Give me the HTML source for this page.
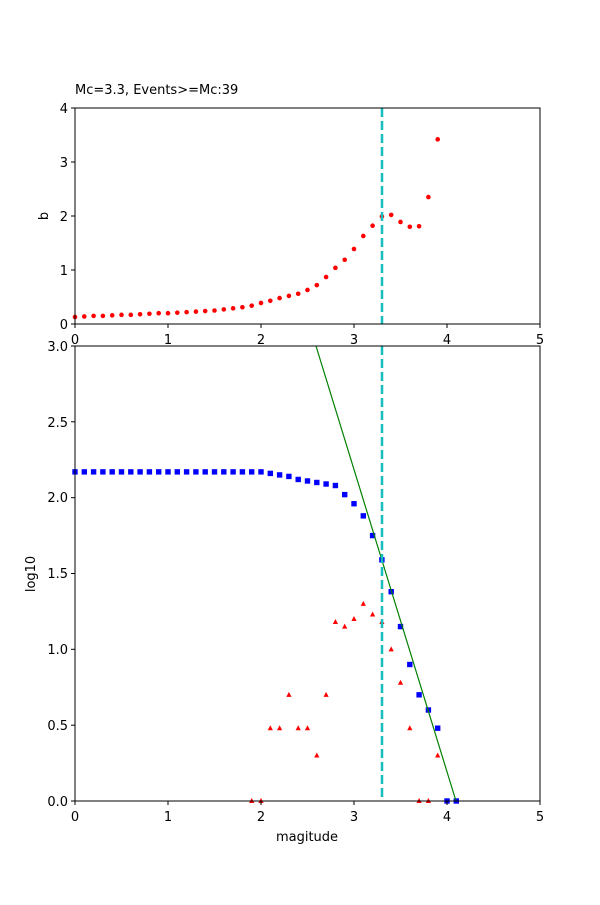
<!DOCTYPE html>
<html><head><meta charset="utf-8"><style>body{margin:0;background:#fff}svg text{font-family:"DejaVu Sans","Liberation Sans",sans-serif;font-size:13px;fill:#000}</style></head><body>
<svg id="s" width="600" height="900" xmlns="http://www.w3.org/2000/svg">
<rect width="600" height="900" fill="#fff"/>
<g id="pts"></g>
<line x1="316" y1="346" x2="456" y2="801" stroke="green" stroke-width="1.2"/>
<line x1="382" y1="108" x2="382" y2="324" stroke="#17bebe" stroke-width="2.5" stroke-dasharray="9,4"/>
<line x1="382" y1="346" x2="382" y2="801" stroke="#17bebe" stroke-width="2.5" stroke-dasharray="9,4"/>
<rect x="75" y="108" width="465" height="216" fill="none" stroke="#000" stroke-width="1"/>
<rect x="75" y="346" width="465" height="455" fill="none" stroke="#000" stroke-width="1"/>
<g stroke="#000">
<line x1="75" y1="324" x2="75" y2="328"/><line x1="168" y1="324" x2="168" y2="328"/><line x1="261" y1="324" x2="261" y2="328"/><line x1="354" y1="324" x2="354" y2="328"/><line x1="447" y1="324" x2="447" y2="328"/><line x1="540" y1="324" x2="540" y2="328"/>
<line x1="75" y1="801" x2="75" y2="805"/><line x1="168" y1="801" x2="168" y2="805"/><line x1="261" y1="801" x2="261" y2="805"/><line x1="354" y1="801" x2="354" y2="805"/><line x1="447" y1="801" x2="447" y2="805"/><line x1="540" y1="801" x2="540" y2="805"/>
<line x1="71" y1="324" x2="75" y2="324"/><line x1="71" y1="270" x2="75" y2="270"/><line x1="71" y1="216" x2="75" y2="216"/><line x1="71" y1="162" x2="75" y2="162"/><line x1="71" y1="108" x2="75" y2="108"/>
<line x1="71" y1="801" x2="75" y2="801"/><line x1="71" y1="725.2" x2="75" y2="725.2"/><line x1="71" y1="649.3" x2="75" y2="649.3"/><line x1="71" y1="573.5" x2="75" y2="573.5"/><line x1="71" y1="497.7" x2="75" y2="497.7"/><line x1="71" y1="421.8" x2="75" y2="421.8"/><line x1="71" y1="346" x2="75" y2="346"/>
</g>
<g text-anchor="middle">
<text x="75" y="344">0</text><text x="168" y="344">1</text><text x="261" y="344">2</text><text x="354" y="344">3</text><text x="447" y="344">4</text><text x="540" y="344">5</text>
<text x="75" y="821">0</text><text x="168" y="821">1</text><text x="261" y="821">2</text><text x="354" y="821">3</text><text x="447" y="821">4</text><text x="540" y="821">5</text>
<text x="307" y="841">magitude</text>
</g>
<g text-anchor="end">
<text x="68" y="329">0</text><text x="68" y="275">1</text><text x="68" y="221">2</text><text x="68" y="167">3</text><text x="68" y="113">4</text>
<text x="68" y="806">0.0</text><text x="68" y="730">0.5</text><text x="68" y="654">1.0</text><text x="68" y="578">1.5</text><text x="68" y="502">2.0</text><text x="68" y="427">2.5</text><text x="68" y="351">3.0</text>
</g>
<text x="75" y="94">Mc=3.3, Events&gt;=Mc:39</text>
<text transform="translate(48,216) rotate(-90)" text-anchor="middle">b</text>
<text transform="translate(35,574) rotate(-90)" text-anchor="middle">log10</text>
</svg>
<script>
var g=document.getElementById('pts'),h='';
var b=[0.13,0.14,0.15,0.15,0.16,0.17,0.17,0.18,0.19,0.2,0.2,0.21,0.22,0.23,0.24,0.25,0.27,0.29,0.31,0.34,0.39,0.43,0.48,0.52,0.56,0.63,0.72,0.87,1.04,1.19,1.39,1.63,1.82,1.99,2.02,1.89,1.8,1.81,2.35,3.42];
b.forEach(function(v,i){h+='<circle cx="'+(75+9.3*i)+'" cy="'+(324-54*v)+'" r="2.3" fill="red"/>';});
var c=[];for(var i=0;i<20;i++)c.push(2.17);
c=c.concat([2.17,2.16,2.15,2.14,2.12,2.11,2.10,2.09,2.08,2.02,1.96,1.88,1.75,1.59,1.38,1.15,0.90,0.70,0.60,0.48,0,0]);
c.forEach(function(v,i){var x=75+9.3*i,y=801-151.67*v;h+='<rect x="'+(x-2.7)+'" y="'+(y-2.7)+'" width="5.4" height="5.4" fill="blue"/>';});
var t={19:0,20:0,21:0.48,22:0.48,23:0.70,24:0.48,25:0.48,26:0.30,27:0.70,28:1.18,29:1.15,30:1.20,31:1.30,32:1.23,33:1.18,34:1.0,35:0.78,36:0.48,37:0,38:0,39:0.30};
for(var k in t){var x=75+9.3*k,y=801-151.67*t[k];h+='<polygon points="'+x+','+(y-3)+' '+(x-2.6)+','+(y+2)+' '+(x+2.6)+','+(y+2)+'" fill="red"/>';}
g.innerHTML=h;
</script>
</body></html>
